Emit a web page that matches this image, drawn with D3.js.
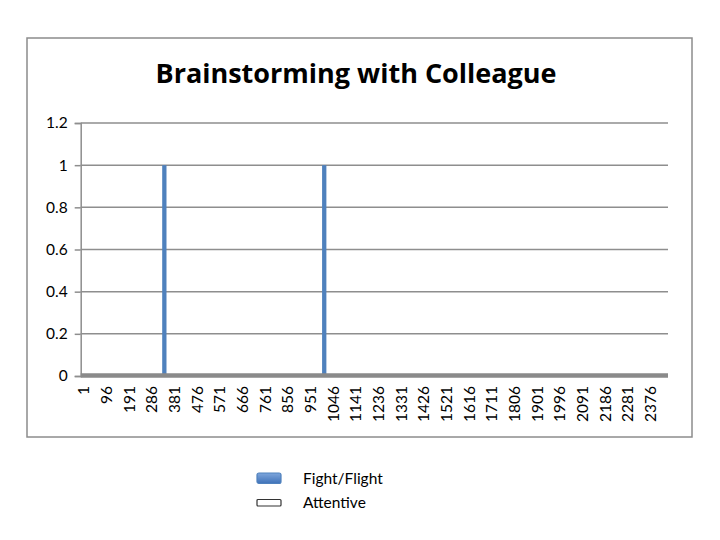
<!DOCTYPE html>
<html>
<head>
<meta charset="utf-8">
<script src="https://cdn.jsdelivr.net/npm/d3@7"></script>
<style>
  body { margin: 0; background: #fff; }
  svg { display: block; font-family: "Lato", "Open Sans", sans-serif; }
</style>
</head>
<body>
<div id="chart"></div>
<script>
// number of samples on the category axis
const sampleCount = 2451;
// category labels that Excel prints (every 95th sample)
const tickLabels = ["1", "96", "191", "286", "381", "476", "571", "666", "761", "856",
  "951", "1046", "1141", "1236", "1331", "1426", "1521", "1616", "1711", "1806",
  "1901", "1996", "2091", "2186", "2281", "2376"];
const yTicks = [0, 0.2, 0.4, 0.6, 0.8, 1, 1.2];
// runs of samples where Fight/Flight = 1 (everywhere else 0)
const fightEpisodes = [
  { start: 332, end: 349, value: 1 },
  { start: 1002, end: 1019, value: 1 }
];
// Attentive stays at 0 over the whole recording
const attentiveLevel = [{ start: 1, end: 2451, value: 0 }];
const seriesNames = ["Fight/Flight", "Attentive"];

const W = 720, H = 540;
const margin = { top: 123, right: 52, bottom: 164, left: 80.7 },
      width = W - margin.left - margin.right,
      height = H - margin.top - margin.bottom;

const svg = d3.select("#chart").append("svg")
    .attr("width", W)
    .attr("height", H);

const defs = svg.append("defs");
const grad = defs.append("linearGradient")
    .attr("id", "blueGrad")
    .attr("x1", 0).attr("y1", 0).attr("x2", 0).attr("y2", 1);
grad.append("stop").attr("offset", "0%").attr("stop-color", "#7ea6dc");
grad.append("stop").attr("offset", "100%").attr("stop-color", "#3f72b8");

// outer chart border
svg.append("rect")
    .attr("x", 27).attr("y", 38)
    .attr("width", 665).attr("height", 399)
    .attr("fill", "#fff")
    .attr("stroke", "#8c8c8c")
    .attr("stroke-width", 1.5);

svg.append("text")
    .attr("x", 356)
    .attr("y", 83)
    .attr("text-anchor", "middle")
    .style("font-family", "'Open Sans', sans-serif")
    .style("font-size", "27px")
    .style("font-weight", "bold")
    .text("Brainstorming with Colleague");

const g = svg.append("g")
    .attr("transform", `translate(${margin.left},${margin.top})`);

const x = d3.scaleLinear()
    .domain([-10, sampleCount])
    .range([0, width]);

const y = d3.scaleLinear()
    .domain([0, 1.2])
    .range([height, 0]);

// gridlines
g.append("g")
    .selectAll("line")
    .data(yTicks.filter(d => d > 0))
    .enter().append("line")
    .attr("x1", 0).attr("x2", width)
    .attr("y1", d => y(d)).attr("y2", d => y(d))
    .attr("stroke", "#8e8e8e")
    .attr("stroke-width", 1.5);

// y axis
const yAxis = g.append("g")
    .call(d3.axisLeft(y).tickValues(yTicks).tickSize(6).tickPadding(7)
      .tickFormat(d => d3.format("~g")(d)));
yAxis.select(".domain").attr("stroke", "#8e8e8e").attr("stroke-width", 1.5);
yAxis.selectAll(".tick line").attr("stroke", "#8e8e8e").attr("stroke-width", 1.5);
yAxis.selectAll("text")
    .style("font-size", "15.5px")
    .style("font-family", "Lato, sans-serif")
    .attr("fill", "#000");

// Fight/Flight runs
g.append("g")
    .selectAll("rect")
    .data(fightEpisodes)
    .enter().append("rect")
    .attr("x", d => x(d.start - 0.5))
    .attr("width", d => x(d.end + 0.5) - x(d.start - 0.5))
    .attr("y", d => y(d.value))
    .attr("height", d => y(0) - y(d.value))
    .attr("fill", "#4f81bd");

// Attentive series sits on zero, its outline merges with the axis
g.append("g")
    .selectAll("line")
    .data(attentiveLevel)
    .enter().append("line")
    .attr("x1", 0).attr("x2", width)
    .attr("y1", d => y(d.value) - 0.5).attr("y2", d => y(d.value) - 0.5)
    .attr("stroke", "#8a8a8a")
    .attr("stroke-width", 4.5);

// x axis labels
const xAxis = g.append("g")
    .attr("transform", `translate(0,${height})`)
    .call(d3.axisBottom(x)
      .tickValues(tickLabels.map(Number))
      .tickSize(0)
      .tickFormat(d => String(d)));
xAxis.select(".domain").remove();
xAxis.selectAll("text")
    .attr("transform", "rotate(-90)")
    .attr("x", -10)
    .attr("y", 0)
    .attr("dy", "0.35em")
    .style("text-anchor", "end")
    .style("font-size", "15.5px")
    .style("font-family", "Lato, sans-serif")
    .attr("fill", "#000");

// legend
const legend = svg.append("g");
const legendRows = legend.selectAll("g")
    .data(seriesNames)
    .enter().append("g")
    .attr("transform", (d, i) => `translate(257,${473 + i * 25})`);
legendRows.append("rect")
    .attr("width", 24)
    .attr("height", (d, i) => i === 0 ? 10.5 : 6.5)
    .attr("rx", (d, i) => i === 0 ? 2 : 1)
    .attr("y", (d, i) => i === 0 ? 0 : 1.5)
    .attr("fill", (d, i) => i === 0 ? "url(#blueGrad)" : "#fff")
    .attr("stroke", (d, i) => i === 0 ? "#4f81bd" : "#333")
    .attr("stroke-width", 1.2);
legendRows.append("text")
    .attr("x", 46)
    .attr("y", (d, i) => i === 0 ? 11 : 10)
    .style("font-size", "15.5px")
    .text(d => d);
</script>
</body>
</html>
